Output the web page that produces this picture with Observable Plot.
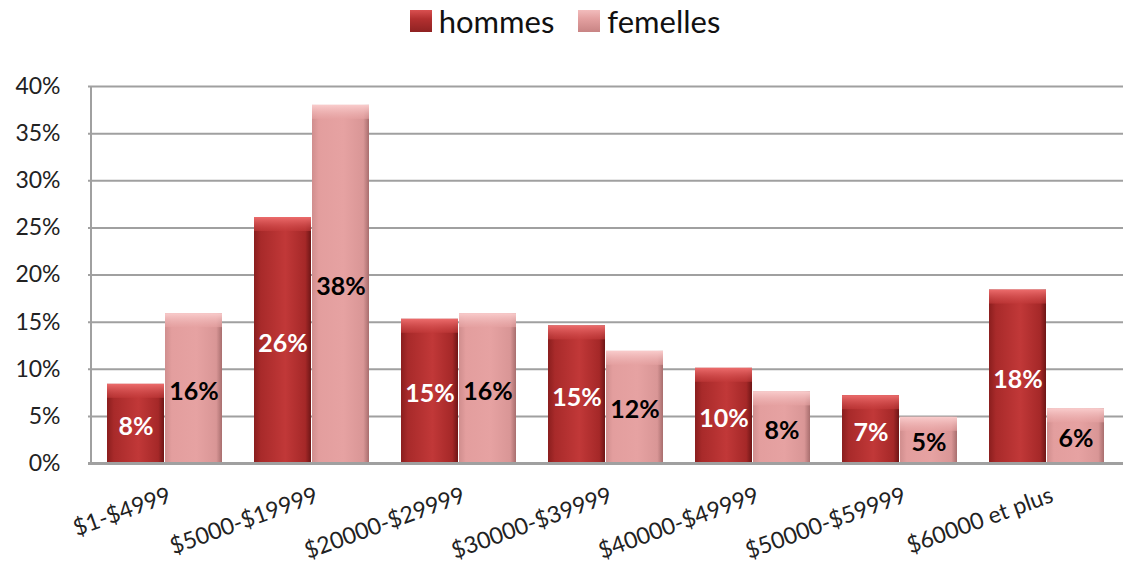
<!DOCTYPE html>
<html>
<head>
<meta charset="utf-8">
<script src="https://cdn.jsdelivr.net/npm/d3@7"></script>
<script src="https://cdn.jsdelivr.net/npm/@observablehq/plot@0.6"></script>
<style>
  body { margin: 0; background: #fff; font-family: Lato, "Open Sans", sans-serif; }
  #legend { height: 45px; display: flex; justify-content: center; align-items: center; gap: 24px; font-size: 31px; color: #111; padding-left: 4px; padding-bottom: 4px; box-sizing: border-box; }
  #legend .item { display: flex; align-items: center; gap: 7px; }
  #legend .sw { width: 22px; height: 22px; display: inline-block; }
</style>
</head>
<body>
<div id="legend">
  <span class="item"><span class="sw" style="background:linear-gradient(180deg,#d95050 0%,#b33030 40%,#8f2222 100%)"></span>hommes</span>
  <span class="item"><span class="sw" style="background:linear-gradient(180deg,#f2bcbc 0%,#e3a0a0 40%,#c88484 100%)"></span>femelles</span>
</div>
<div id="chart"></div>
<script>
const categories = ["$1-$4999", "$5000-$19999", "$20000-$29999", "$30000-$39999", "$40000-$49999", "$50000-$59999", "$60000 et plus"];
const hommes = [8.4, 26.1, 15.3, 14.6, 10.1, 7.2, 18.4];
const femelles = [15.9, 38.0, 15.9, 11.9, 7.6, 4.9, 5.8];
const yTicks = [0, 5, 10, 15, 20, 25, 30, 35, 40];

const dataH = categories.map((c, i) => ({cat: c, v: hommes[i]}));
const dataF = categories.map((c, i) => ({cat: c, v: femelles[i]}));

const font = "Lato, 'Open Sans', sans-serif";

const chart = Plot.plot({
  width: 1126,
  height: 541,
  marginTop: 41,
  marginBottom: 123,
  marginLeft: 88,
  marginRight: 3,
  style: {fontFamily: font, fontSize: "20px", color: "#222", background: "#fff"},
  x: {domain: categories, paddingInner: 0.215, paddingOuter: 0.1075, label: null},
  y: {domain: [0, 40], label: null},
  marks: [
    Plot.gridY(yTicks, {stroke: "#a0a0a0", strokeOpacity: 1, strokeWidth: 2}),
    Plot.axisY(yTicks, {tickSize: 0, tickPadding: 28, tickFormat: d => d + "%", fontSize: 23, label: null}),
    Plot.axisX({tickSize: 0, tickPadding: 31, dx: 5, tickRotate: -20, fontSize: 23, label: null}),
    Plot.barY(dataH, {x: "cat", y: "v", insetRight: 58, fill: "url(#gradH)"}),
    Plot.barY(dataF, {x: "cat", y: "v", insetLeft: 58, fill: "url(#gradF)"}),
    Plot.barY(dataH, {x: "cat", y1: "v", y2: "v", insetRight: 58, insetBottom: -14, fill: "url(#bevH)"}),
    Plot.barY(dataF, {x: "cat", y1: "v", y2: "v", insetLeft: 58, insetBottom: -14, fill: "url(#bevF)"}),
    Plot.ruleY([0], {stroke: "#a0a0a0", strokeWidth: 3}),
    Plot.ruleX([0], {x: () => categories[0], dx: -74, y1: 0, y2: 40, stroke: "#a0a0a0", strokeWidth: 2}),
    Plot.text(dataH, {x: "cat", y: d => d.v / 2, dx: -29, dy: 3, text: d => Math.round(d.v) + "%", fill: "#fff", fontWeight: "bold", fontSize: 25}),
    Plot.text(dataF, {x: "cat", y: d => d.v / 2, dx: 29, dy: 3, text: d => Math.round(d.v) + "%", fill: "#000", fontWeight: "bold", fontSize: 25})
  ]
});

const ns = "http://www.w3.org/2000/svg";
const defs = document.createElementNS(ns, "defs");
defs.innerHTML = `
  <linearGradient id="gradH" x1="0" x2="1" y1="0" y2="0">
    <stop offset="0" stop-color="#8a1e1e"/>
    <stop offset="0.12" stop-color="#a82a2a"/>
    <stop offset="0.55" stop-color="#c13838"/>
    <stop offset="0.9" stop-color="#a52828"/>
    <stop offset="1" stop-color="#6e1616"/>
  </linearGradient>
  <linearGradient id="gradF" x1="0" x2="1" y1="0" y2="0">
    <stop offset="0" stop-color="#d08e8e"/>
    <stop offset="0.12" stop-color="#e39e9e"/>
    <stop offset="0.55" stop-color="#e6a2a2"/>
    <stop offset="0.9" stop-color="#d99696"/>
    <stop offset="1" stop-color="#a86e6e"/>
  </linearGradient>
  <linearGradient id="bevH" x1="0" x2="0" y1="0" y2="1">
    <stop offset="0" stop-color="#ec6c6c"/>
    <stop offset="1" stop-color="#c33a3a" stop-opacity="0.6"/>
  </linearGradient>
  <linearGradient id="bevF" x1="0" x2="0" y1="0" y2="1">
    <stop offset="0" stop-color="#f9cccc"/>
    <stop offset="1" stop-color="#e6a2a2" stop-opacity="0.6"/>
  </linearGradient>`;
chart.insertBefore(defs, chart.firstChild);
document.getElementById("chart").appendChild(chart);
</script>
</body>
</html>
